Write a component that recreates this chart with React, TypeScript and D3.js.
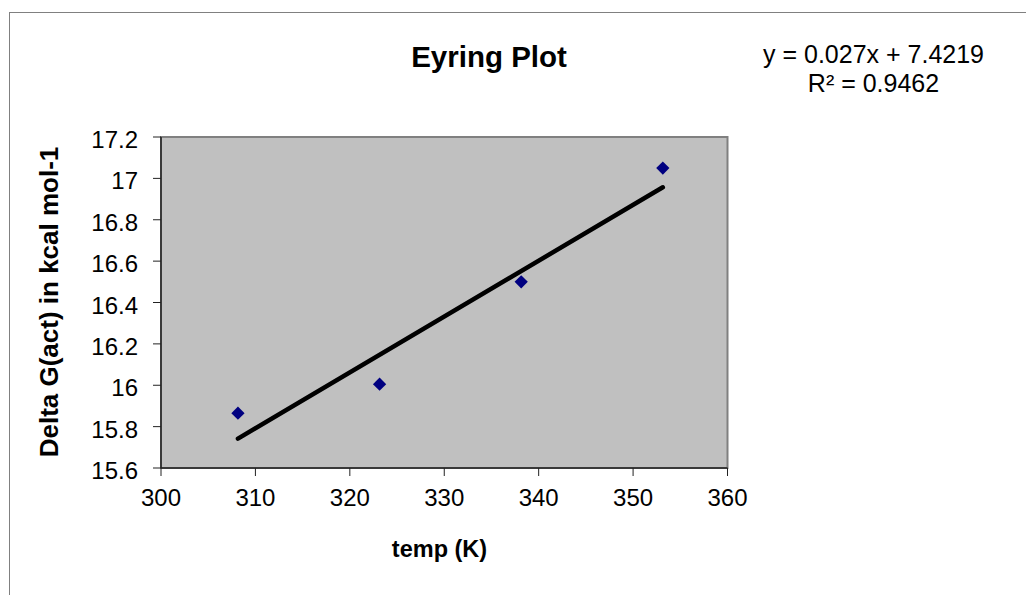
import React from "react";
import * as d3 from "d3";

// Eyring plot data: temperature (K) vs activation free energy (kcal/mol)
const temps = [308.15, 323.15, 338.15, 353.15];
const deltaG = [15.865, 16.005, 16.5, 17.05];
const xTicks = [300, 310, 320, 330, 340, 350, 360];
const yTicks = [15.6, 15.8, 16, 16.2, 16.4, 16.6, 16.8, 17, 17.2];
const fitSlope = 0.027;
const fitIntercept = 7.4219;
const fitR2 = 0.9462;

const W = 1026;
const H = 595;
const plot = { left: 161, top: 137, right: 727.5, bottom: 468 };
const FONT = "'Liberation Sans', Arial, sans-serif";

export default function App() {
  const x = d3.scaleLinear().domain([300, 360]).range([plot.left, plot.right]);
  const y = d3.scaleLinear().domain([15.6, 17.2]).range([plot.bottom, plot.top]);

  const xMin = d3.min(temps) as number;
  const xMax = d3.max(temps) as number;
  const fitLine = d3
    .line<number>()
    .x((t) => x(t))
    .y((t) => y(fitSlope * t + fitIntercept))([xMin, xMax]);

  const diamond = d3.symbol().type(d3.symbolDiamond2).size(112)();

  return (
    <svg
      width={W}
      height={H}
      style={{ position: "absolute", left: 0, top: 0, background: "#fff" }}
      fontFamily={FONT}
    >
      {/* chart frame */}
      <rect x={9.5} y={12.5} width={W + 10} height={H + 10} fill="none" stroke="#808080" strokeWidth={1} />

      {/* plot area */}
      <rect
        x={plot.left}
        y={plot.top}
        width={plot.right - plot.left}
        height={plot.bottom - plot.top}
        fill="#C0C0C0"
        stroke="#808080"
        strokeWidth={2}
      />

      {/* axes */}
      <line x1={plot.left} x2={plot.left} y1={plot.top} y2={plot.bottom} stroke="#222" strokeWidth={1.5} />
      <line x1={plot.left} x2={plot.right} y1={plot.bottom} y2={plot.bottom} stroke="#222" strokeWidth={1.5} />

      {yTicks.map((t) => (
        <g key={"y" + t}>
          <line x1={plot.left - 8} x2={plot.left} y1={y(t)} y2={y(t)} stroke="#222" strokeWidth={1} />
          <text x={138} y={y(t) + 11} textAnchor="end" fontSize={24} fill="#000">
            {String(t)}
          </text>
        </g>
      ))}

      {xTicks.map((t) => (
        <g key={"x" + t}>
          <line x1={x(t)} x2={x(t)} y1={plot.bottom} y2={plot.bottom + 8} stroke="#222" strokeWidth={1} />
          <text x={x(t)} y={506} textAnchor="middle" fontSize={24} fill="#000">
            {String(t)}
          </text>
        </g>
      ))}

      {/* linear trendline */}
      <path d={fitLine ?? ""} fill="none" stroke="#000" strokeWidth={4.5} strokeLinecap="round" />

      {/* data points */}
      {temps.map((t, i) => (
        <path key={"p" + i} d={diamond ?? ""} transform={`translate(${x(t)},${y(deltaG[i])})`} fill="#000080" />
      ))}

      {/* titles */}
      <text x={489} y={67} textAnchor="middle" fontSize={29.5} fontWeight="bold" fill="#000">
        Eyring Plot
      </text>
      <text x={439.5} y={557} textAnchor="middle" fontSize={23.5} fontWeight="bold" fill="#000">
        temp (K)
      </text>
      <text
        transform={`translate(58,302) rotate(-90)`}
        textAnchor="middle"
        fontSize={26}
        fontWeight="bold"
        fill="#000"
      >
        Delta G(act) in kcal mol-1
      </text>

      {/* trendline equation */}
      <text x={873.5} y={63} textAnchor="middle" fontSize={25} fill="#000">
        {`y = ${fitSlope}x + ${fitIntercept}`}
      </text>
      <text x={873.5} y={91.5} textAnchor="middle" fontSize={25} fill="#000">
        {`R² = ${fitR2}`}
      </text>
    </svg>
  );
}
